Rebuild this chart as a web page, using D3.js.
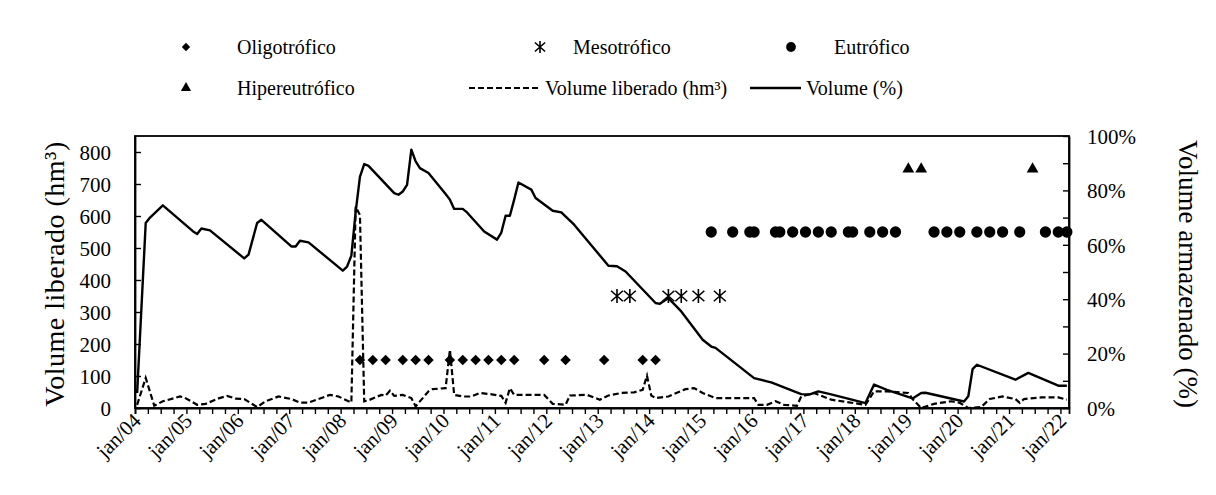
<!DOCTYPE html>
<html>
<head>
<meta charset="utf-8">
<script src="https://cdn.jsdelivr.net/npm/d3@7"></script>
<style>
  html, body { margin: 0; padding: 0; background: #fff; }
</style>
</head>
<body>
<svg id="chart" width="1216" height="495"></svg>
<script>
// Monthly category axis: jan/2004 .. feb/2022
const firstMonth = "2004-01";
const lastMonth = "2022-02";

// Stored volume (% of capacity), right axis
const volumeDates = ["2004-01","2004-03","2004-04","2004-07","2005-02","2005-03","2005-04","2005-06",
  "2006-02","2006-03","2006-05","2006-06","2007-01","2007-02","2007-03","2007-05","2008-01","2008-02",
  "2008-03","2008-04","2008-05","2008-06","2008-07","2009-01","2009-02","2009-03","2009-04","2009-05",
  "2009-06","2009-07","2009-09","2010-01","2010-02","2010-03","2010-05","2010-06","2010-10","2011-01",
  "2011-02","2011-03","2011-04","2011-05","2011-06","2011-09","2011-10","2012-02","2012-04","2012-07",
  "2013-03","2013-05","2013-07","2014-02","2014-03","2014-05","2014-08","2015-01","2015-03","2015-04",
  "2016-01","2016-04","2016-05","2016-12","2017-02","2017-04","2017-07","2018-03","2018-05","2018-08",
  "2019-02","2019-04","2019-05","2020-02","2020-03","2020-04","2020-05","2021-02","2021-05","2021-12","2022-02"];
const volumePct = [5.5,68,70,74.5,65,64,66,65.3,
  55,56.4,68,69.2,59.4,59.4,61.5,60.9,50.5,52,
  56,72,85,89.7,89,79,78.4,79.6,82,95,
  90.7,88.2,86.4,78.7,76.6,73.2,73.2,71.9,64.9,61.9,
  64.5,70.7,70.7,76.6,82.9,80.3,77.2,72.5,71.9,67.4,
  52.3,52.1,50.2,38.6,38.3,40.4,35.5,25.1,22.6,22.1,
  11,9.8,9.4,5.1,5,6.1,5,1.8,8.6,6.7,
  3.5,5.5,5.6,2.4,4.3,14.3,15.9,10.4,12.9,8.2,8.2];

// Released volume (hm³), left axis
const releaseDates = ["2004-01","2004-03","2004-05","2004-07","2004-11","2004-12","2005-03","2005-05",
  "2005-08","2005-10","2005-12","2006-02","2006-05","2006-07","2006-10","2007-01","2007-03","2007-05",
  "2007-10","2007-12","2008-03","2008-04","2008-05","2008-06","2008-07","2008-10","2008-11","2008-12",
  "2009-01","2009-03","2009-05","2009-06","2009-09","2009-10","2010-01","2010-02","2010-03","2010-05",
  "2010-07","2010-09","2010-11","2011-02","2011-03","2011-04","2011-05","2011-09","2011-12","2012-02",
  "2012-05","2012-06","2012-10","2013-01","2013-03","2013-06","2013-09","2013-11","2013-12","2014-01",
  "2014-02","2014-05","2014-09","2014-11","2015-01","2015-04","2016-01","2016-02","2016-04","2016-06",
  "2016-08","2016-11","2016-12","2017-03","2017-07","2018-03","2018-05","2018-08","2019-01","2019-02",
  "2019-04","2019-07","2019-11","2020-01","2020-03","2020-06","2020-08","2020-11","2021-02","2021-03",
  "2021-04","2021-08","2021-12","2022-02"];
const releaseHm3 = [10,94,7,21,36,33,10,13,
  30,38,29,28,3,21,36,28,17,17,
  41,36,17,629,603,21,24,41,39,54,
  38,41,31,5,52,59,62,182,41,36,
  36,47,44,38,16,62,41,41,41,13,
  10,39,41,26,39,47,49,57,101,39,
  31,36,59,62,47,31,31,10,10,21,
  10,7,36,47,26,10,52,52,47,28,
  0,13,21,16,0,3,28,36,28,16,
  28,33,33,26];

// Trophic state samples, plotted at fixed levels of the left axis
const oligoDates = ["2008-05","2008-08","2008-11","2009-03","2009-06","2009-09","2010-02","2010-05",
  "2010-08","2010-11","2011-02","2011-05","2011-12","2012-05","2013-02","2013-11","2014-02"];
const mesoDates = ["2013-05","2013-08","2014-05","2014-08","2014-12","2015-05"];
const eutroDates = ["2015-03","2015-08","2015-12","2016-01","2016-06","2016-07","2016-10","2017-01",
  "2017-04","2017-07","2017-11","2017-12","2018-04","2018-07","2018-10","2019-07","2019-10","2020-01",
  "2020-05","2020-08","2020-11","2021-03","2021-09","2021-12","2022-02"];
const hyperDates = ["2019-01","2019-04","2021-06"];
const stateLevels = { oligo: 150, meso: 350, eutro: 550, hyper: 750 };

const leftTicks = [0,100,200,300,400,500,600,700,800];
const rightTicks = [0,0.1,0.2,0.3,0.4,0.5,0.6,0.7,0.8,0.9,1.0];
const monthAbbr = ["jan","fev","mar","abr","mai","jun","jul","ago","set","out","nov","dez"];

const SERIF = '"Liberation Serif", "Times New Roman", Times, serif';

// ---- layout ----
const svg = d3.select("#chart");
const plot = { left: 135, right: 1069, top: 136, bottom: 408 };

const parseKey = k => { const [y, m] = k.split("-").map(Number); return (y - 2004) * 12 + (m - 1); };
const keyOf = i => `${2004 + Math.floor(i / 12)}-${String(i % 12 + 1).padStart(2, "0")}`;
const nMonths = parseKey(lastMonth) - parseKey(firstMonth) + 1;
const monthKeys = d3.range(nMonths).map(keyOf);

const xBand = d3.scaleBand().domain(monthKeys).range([plot.left, plot.right]).padding(0);
const xEdge = d3.scaleLinear().domain([0, nMonths]).range([plot.left, plot.right]);
const xc = k => xBand(k) + xBand.bandwidth() / 2;

const yL = d3.scaleLinear().domain([0, 850]).range([plot.bottom, plot.top]);
const yR = d3.scaleLinear().domain([0, 1]).range([plot.bottom, plot.top]);

// ---- frame ----
svg.append("rect")
  .attr("x", plot.left).attr("y", plot.top)
  .attr("width", plot.right - plot.left).attr("height", plot.bottom - plot.top)
  .attr("fill", "none").attr("stroke", "#000").attr("stroke-width", 1.8);

// ---- x axis ----
const gx = svg.append("g").attr("transform", `translate(0,${plot.bottom})`)
  .call(d3.axisBottom(xEdge).tickValues(d3.range(0, nMonths + 1, 3)).tickSize(6).tickFormat(""));
gx.select(".domain").attr("stroke-width", 1.8);
gx.selectAll(".tick line").attr("stroke-width", 1.4);

const janKeys = monthKeys.filter(k => k.endsWith("-01"));
svg.append("g").selectAll("text").data(janKeys).join("text")
  .attr("transform", k => `translate(${xc(k) + 5},${plot.bottom + 14}) rotate(-45)`)
  .attr("text-anchor", "end")
  .style("font-family", SERIF).style("font-size", "21px")
  .text(k => `${monthAbbr[+k.slice(5) - 1]}/${k.slice(2, 4)}`);

// ---- left axis ----
const gl = svg.append("g").attr("transform", `translate(${plot.left},0)`)
  .call(d3.axisLeft(yL).tickValues(leftTicks).tickSizeInner(-6).tickSizeOuter(0).tickPadding(24));
gl.select(".domain").attr("stroke-width", 1.8);
gl.selectAll(".tick line").attr("stroke-width", 1.4);
gl.selectAll(".tick text").style("font-family", SERIF).style("font-size", "21px").attr("dy", "0.35em");

// ---- right axis ----
const gr = svg.append("g").attr("transform", `translate(${plot.right},0)`)
  .call(d3.axisRight(yR).tickValues(rightTicks).tickSizeInner(-6).tickSizeOuter(0).tickPadding(18)
    .tickFormat(d => Math.round(d * 100) % 20 === 0 ? `${Math.round(d * 100)}%` : ""));
gr.select(".domain").attr("stroke-width", 1.8);
gr.selectAll(".tick line").attr("stroke-width", 1.4);
gr.selectAll(".tick text").style("font-family", SERIF).style("font-size", "21px").attr("dy", "0.35em");

// ---- axis titles ----
svg.append("text")
  .attr("transform", `translate(64,${(plot.top + plot.bottom) / 2 + 2}) rotate(-90)`)
  .attr("text-anchor", "middle").style("font-family", SERIF).style("font-size", "28px")
  .style("letter-spacing", "0.5px")
  .text("Volume liberado (hm³)");
svg.append("text")
  .attr("transform", `translate(1179,${(plot.top + plot.bottom) / 2 + 2}) rotate(90)`)
  .attr("text-anchor", "middle").style("font-family", SERIF).style("font-size", "27px")
  .text("Volume armazenado (%)");

// ---- series ----
const volData = volumeDates.map((d, i) => ({ k: d, v: volumePct[i] / 100 }));
const relData = releaseDates.map((d, i) => ({ k: d, v: releaseHm3[i] }));

svg.append("path").datum(relData)
  .attr("fill", "none").attr("stroke", "#000").attr("stroke-width", 2.2)
  .attr("stroke-dasharray", "6,3")
  .attr("d", d3.line().x(d => xc(d.k)).y(d => yL(d.v)));

svg.append("path").datum(volData)
  .attr("fill", "none").attr("stroke", "#000").attr("stroke-width", 2.4)
  .attr("stroke-linejoin", "round")
  .attr("d", d3.line().x(d => xc(d.k)).y(d => yR(d.v)));

// ---- markers ----
const diamond = d3.symbol().type(d3.symbolDiamond2).size(70);
const circle = d3.symbol().type(d3.symbolCircle).size(100);
const triangle = d3.symbol().type(d3.symbolTriangle).size(60);
const asterisk = s => `M0,${-s}V${s}M${-s*0.85},${-s*0.75}L${s*0.85},${s*0.75}M${-s*0.85},${s*0.75}L${s*0.85},${-s*0.75}`;

const mk = svg.append("g");
mk.selectAll(".oligo").data(oligoDates).join("path").attr("class", "oligo")
  .attr("transform", d => `translate(${xc(d)},${yL(stateLevels.oligo)})`)
  .attr("d", diamond()).attr("fill", "#000");
mk.selectAll(".meso").data(mesoDates).join("path").attr("class", "meso")
  .attr("transform", d => `translate(${xc(d)},${yL(stateLevels.meso)})`)
  .attr("d", asterisk(7)).attr("fill", "none").attr("stroke", "#000").attr("stroke-width", 1.6);
mk.selectAll(".eutro").data(eutroDates).join("path").attr("class", "eutro")
  .attr("transform", d => `translate(${xc(d)},${yL(stateLevels.eutro)})`)
  .attr("d", circle()).attr("fill", "#000");
mk.selectAll(".hyper").data(hyperDates).join("path").attr("class", "hyper")
  .attr("transform", d => `translate(${xc(d)},${yL(stateLevels.hyper) + 1})`)
  .attr("d", triangle()).attr("fill", "#000");

// ---- legend ----
const lg = svg.append("g");
const row1 = 47, row2 = 88;
const legendText = (x, y, t) => lg.append("text").attr("x", x).attr("y", y).attr("dy", "0.35em")
  .style("font-family", SERIF).style("font-size", "20px").text(t);

lg.append("path").attr("transform", `translate(186,${row1})`).attr("d", d3.symbol().type(d3.symbolDiamond2).size(45)()).attr("fill", "#000");
legendText(237, row1, "Oligotrófico");
lg.append("path").attr("transform", `translate(540,${row1})`).attr("d", asterisk(6)).attr("fill", "none").attr("stroke", "#000").attr("stroke-width", 1.6);
legendText(573, row1, "Mesotrófico");
lg.append("path").attr("transform", `translate(791,${row1})`).attr("d", d3.symbol().type(d3.symbolCircle).size(75)()).attr("fill", "#000");
legendText(834, row1, "Eutrófico");

lg.append("path").attr("transform", `translate(186,${row2})`).attr("d", d3.symbol().type(d3.symbolTriangle).size(45)()).attr("fill", "#000");
legendText(237, row2, "Hipereutrófico");
lg.append("line").attr("x1", 469).attr("x2", 540).attr("y1", row2).attr("y2", row2)
  .attr("stroke", "#000").attr("stroke-width", 2.2).attr("stroke-dasharray", "6,3");
legendText(545, row2, "Volume liberado (hm³)");
lg.append("line").attr("x1", 750).attr("x2", 801).attr("y1", row2).attr("y2", row2)
  .attr("stroke", "#000").attr("stroke-width", 2.4);
legendText(806, row2, "Volume (%)");
</script>
</body>
</html>
